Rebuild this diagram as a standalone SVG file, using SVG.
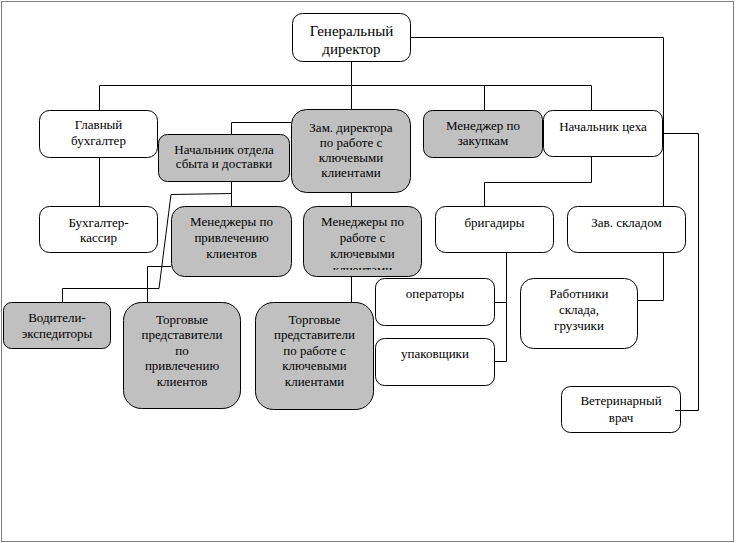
<svg xmlns="http://www.w3.org/2000/svg" width="736" height="543" viewBox="0 0 736 543">
<style>
.b{fill:#ffffff;stroke:#000;stroke-width:1}
.g{fill:#c0c0c0;stroke:#000;stroke-width:1}
text{font-family:'Liberation Serif','Times New Roman',serif;font-size:13px;fill:#000;text-anchor:middle}
.big{font-size:15px}
.c{fill:none;stroke:#000;stroke-width:1}
</style>
<defs>
<clipPath id="clipMK"><rect x="303" y="206" width="119" height="64"/></clipPath>
</defs>
<rect x="1.5" y="1.5" width="732" height="540" fill="#fff" stroke="#000" stroke-width="1" stroke-dasharray="1,1"/>
<g font-family="Liberation Serif, serif">
<g id="gd"><rect class="b" x="292.5" y="13.5" width="118" height="48" rx="10"/>
<text class="big" x="351.5" y="36">Генеральный</text><text class="big" x="351.5" y="54">директор</text></g>

<g id="glbuh"><rect class="b" x="39.5" y="110.5" width="118" height="47" rx="10"/>
<text x="98.5" y="129">Главный</text><text x="98.5" y="145">бухгалтер</text></g>

<g id="nachotd"><rect class="g" x="158.5" y="134.5" width="131" height="47" rx="9"/>
<text x="224" y="154">Начальник отдела</text><text x="224" y="168">сбыта и доставки</text></g>

<g id="zam"><rect class="g" x="291.5" y="109.5" width="119" height="83" rx="15"/>
<text x="351" y="132">Зам. директора</text><text x="351" y="147">по работе с</text><text x="351" y="162">ключевыми</text><text x="351" y="177">клиентами</text></g>

<g id="zakup"><rect class="g" x="423.5" y="110.5" width="119" height="47" rx="9"/>
<text x="483" y="130">Менеджер по</text><text x="483" y="145">закупкам</text></g>

<g id="ceh"><rect class="b" x="543.5" y="110.5" width="119" height="46" rx="9"/>
<text x="603" y="131">Начальник цеха</text></g>

<g id="kassir"><rect class="b" x="39.5" y="206.5" width="118" height="46" rx="10"/>
<text x="98.5" y="227">Бухгалтер-</text><text x="98.5" y="242">кассир</text></g>

<g id="menprivl"><rect class="g" x="171.5" y="206.5" width="120" height="70" rx="13"/>
<text x="231.5" y="226">Менеджеры по</text><text x="231.5" y="242">привлечению</text><text x="231.5" y="258">клиентов</text></g>

<g id="menkl"><rect class="g" x="303.5" y="206.5" width="118" height="70" rx="13"/>
<g clip-path="url(#clipMK)"><text x="362.5" y="226">Менеджеры по</text><text x="362.5" y="242">работе с</text><text x="362.5" y="258">ключевыми</text><text x="362.5" y="274">клиентами</text></g></g>

<g id="brig"><rect class="b" x="435.5" y="206.5" width="118" height="46" rx="10"/>
<text x="494.5" y="227">бригадиры</text></g>

<g id="zav"><rect class="b" x="567.5" y="206.5" width="118" height="46" rx="10"/>
<text x="626.5" y="227">Зав. складом</text></g>

<g id="voditeli"><rect class="g" x="3.5" y="302.5" width="107" height="46" rx="8"/>
<text x="57" y="322">Водители-</text><text x="57" y="338">экспедиторы</text></g>

<g id="torg1"><rect class="g" x="123.5" y="302.5" width="117" height="106" rx="18"/>
<text x="182" y="324">Торговые</text><text x="182" y="339">представители</text><text x="182" y="355">по</text><text x="182" y="370">привлечению</text><text x="182" y="386">клиентов</text></g>

<g id="torg2"><rect class="g" x="255.5" y="302.5" width="118" height="107" rx="18"/>
<text x="314.5" y="324">Торговые</text><text x="314.5" y="339">представители</text><text x="314.5" y="355">по работе с</text><text x="314.5" y="370">ключевыми</text><text x="314.5" y="386">клиентами</text></g>

<g id="oper"><rect class="b" x="375.5" y="278.5" width="119" height="47" rx="9"/>
<text x="435" y="298">операторы</text></g>

<g id="upak"><rect class="b" x="375.5" y="338.5" width="119" height="47" rx="9"/>
<text x="435" y="358">упаковщики</text></g>

<g id="rabotniki"><rect class="b" x="520.5" y="278.5" width="117" height="70" rx="13"/>
<text x="579" y="298">Работники</text><text x="579" y="314">склада,</text><text x="579" y="330">грузчики</text></g>

<g id="vet"><rect class="b" x="561.5" y="386.5" width="119" height="46" rx="9"/>
<text x="621" y="405">Ветеринарный</text><text x="621" y="422">врач</text></g>
</g>
<g id="connectors" class="c">
<path d="M351.5,62 V85.5"/>
<path d="M99.5,110 V85.5 H591.5 V110"/>
<path d="M351.5,85.5 V109"/>
<path d="M484.5,85.5 V110"/>
<path d="M411,37.5 H663.5 V206"/>
<path d="M291,122.5 H231.5 V134"/>
<path d="M99.5,158 V206"/>
<path d="M231.5,182 V206"/>
<path d="M231.5,193.5 L171,194.5 L159,288.5 H62.5 V302"/>
<path d="M171,266.5 H147.5 V302"/>
<path d="M351.5,193 V206"/>
<path d="M351.5,277 V302"/>
<path d="M591.5,157 V182.5 H484.5 V206"/>
<path d="M663,133.5 H698.5 V410.5 H675"/>
<path d="M506.5,253 V361.5 H495"/>
<path d="M495,302.5 H506.5"/>
<path d="M663.5,253 V300.5 H638"/>
</g>
</svg>
